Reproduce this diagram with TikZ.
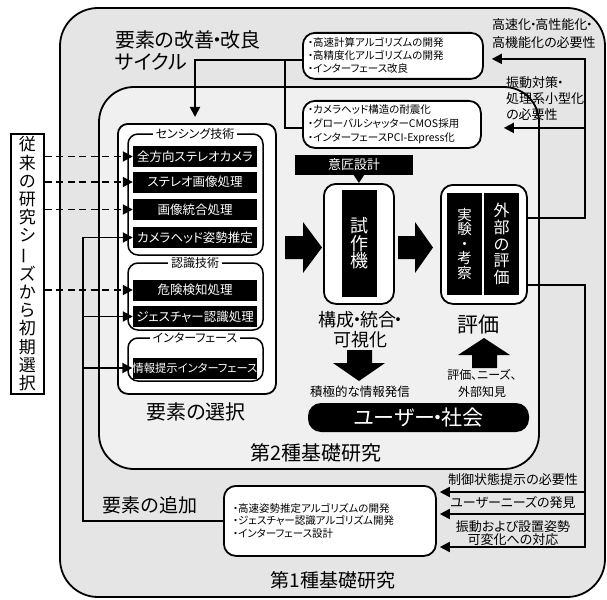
\documentclass[tikz,border=0pt]{standalone}
\usepackage{fontspec}
\usepackage{graphicx}
\setmainfont[CharacterWidth=AlternateProportional]{Noto Sans CJK JP}
\usetikzlibrary{arrows.meta}
\newcommand\nkg{\hbox to .32em{\hss ・\hss}}
\begin{document}
\begin{tikzpicture}[x=1pt,y=-1pt,
  lw/.style={line width=1.8pt},
  arr/.style={line width=1.8pt,-{Triangle[length=10pt,width=10pt]}},
  darr/.style={line width=1.8pt,dash pattern=on 7pt off 4.5pt,-{Triangle[length=10pt,width=10pt]}},
  wbox/.style={draw,line width=1.8pt,fill=white,rounded corners=10pt,anchor=north west,inner sep=0pt},
  grp/.style={draw,line width=1.5pt,rounded corners=10pt},
  blk/.style={fill=black,text=white,inner sep=0pt,minimum width=124pt,minimum height=21pt,font=\fontsize{12.5}{14}\selectfont},
  gtitle/.style={fill=white,inner xsep=3pt,inner ysep=0pt,font=\fontsize{12}{14}\selectfont},
  lbl/.style={inner sep=0pt,align=center},
  bigarrow/.style={fill=black},
]
\useasboundingbox (0,0) rectangle (607,599);
% frames
\draw[lw,fill=black!10,rounded corners=38pt] (60,8) rectangle (605,597);
\draw[lw,fill=black!6,rounded corners=35pt] (99,87) rectangle (539,469);

% selection box
\node[wbox,minimum width=158pt,minimum height=270pt] (sel) at (117,123) {};
\draw[grp] (128,134) rectangle (263,255);
\draw[grp] (128,263) rectangle (263,330);
\draw[grp] (128,338) rectangle (263,381);
\node[gtitle] (t1) at (195,134) {センシング技術};
\node[gtitle] (t2) at (195,263) {認識技術};
\node[gtitle] (t3) at (195,338) {インターフェース};

\node[blk] (b1) at (195,156.5) {全方向ステレオカメラ};
\node[blk] (b2) at (195,182) {ステレオ画像処理};
\node[blk] (b3) at (195,209.5) {画像統合処理};
\node[blk] (b4) at (195,237.5) {カメラヘッド姿勢推定};
\node[blk] (b5) at (195,290) {危険検知処理};
\node[blk] (b6) at (195,316.5) {ジェスチャー認識処理};
\node[blk,font=\fontsize{11.3}{14}\selectfont] (b7) at (195,368) {情報提示インターフェース};

% seeds box
\node[draw,line width=1.5pt,fill=white,inner sep=0pt,minimum width=33pt,minimum height=260pt,anchor=north west,align=center,font=\fontsize{17}{18.2}\selectfont] (seeds) at (10,133) {従\\来\\の\\研\\究\\シ\\\rotatebox[origin=c]{90}{ー}\\ズ\\か\\ら\\初\\期\\選\\択};
\draw[darr] (seeds.east |- b1.west) -- (b1.west);
\draw[darr] (seeds.east |- b2.west) -- (b2.west);
\draw[darr] (seeds.east |- b3.west) -- (b3.west);
\draw[darr] (seeds.east |- b5.west) -- (b5.west);

% coordinates for vertical lines
\coordinate (vl) at (83,0);
\coordinate (vt) at (195,0);
\coordinate (vr) at (585,0);
\coordinate (j1) at (285,59);

% top boxes
\node[wbox,minimum width=180pt,minimum height=46pt,rounded corners=12pt,align=left,text width=170pt,inner xsep=5pt,font=\fontsize{10.5}{13}\selectfont] (box1) at (302,32) {・高速計算アルゴリズムの開発\\・高精度化アルゴリズムの開発\\・インターフェース改良};
\node[wbox,minimum width=178pt,minimum height=47pt,rounded corners=12pt,align=left,text width=168pt,inner xsep=5pt,font=\fontsize{10.5}{14}\selectfont] (box2) at (302,100) {・カメラヘッド構造の耐震化\\・グローバルシャッターCMOS採用\\・インターフェースPCI-Express化};

% bottom box
\node[wbox,minimum width=212pt,minimum height=70pt,rounded corners=12pt,align=left,text width=194pt,inner xsep=9pt,font=\fontsize{10.5}{12.5}\selectfont] (bot) at (223,485) {・高速姿勢推定アルゴリズムの開発\\・ジェスチャー認識アルゴリズム開発\\・インターフェース設計};

% prototype
\node[fill=black,text=white,minimum width=118pt,minimum height=20pt,inner sep=0pt,font=\fontsize{13}{15}\selectfont] (isho) at (354,165) {意匠設計};
\node[wbox,minimum width=70pt,minimum height=120pt,rounded corners=12pt] (shisaku) at (323,183) {};
\node[fill=black,text=white,minimum width=35pt,minimum height=107pt,inner sep=0pt,align=center,font=\fontsize{18}{17.5}\selectfont] (shisakut) at (359.5,243.5) {試\\作\\機};
\draw[line width=1.8pt,-{Triangle[length=8pt,width=10pt]}] (isho.south -| shisaku.north) -- (shisaku.north);

% evaluation
\node[wbox,minimum width=86pt,minimum height=119pt,rounded corners=12pt] (eval) at (440,184) {};
\node[fill=black,text=white,minimum width=35pt,minimum height=102pt,inner sep=0pt,align=center,font=\fontsize{14.5}{14.5}\selectfont] (jikken) at (464.5,244) {実\\験\\・\\考\\察};
\node[fill=black,text=white,minimum width=35pt,minimum height=102pt,inner sep=0pt,align=center,font=\fontsize{16}{16.7}\selectfont] (gaibu) at (501.5,244) {外\\部\\の\\評\\価};

% big arrows
\fill[bigarrow] (285,236) -- (303,236) -- (303,222) -- (322,247.5) -- (303,273) -- (303,259) -- (285,259) -- cycle;
\fill[bigarrow] (398,236) -- (415,236) -- (415,222) -- (433,247.5) -- (415,273) -- (415,259) -- (398,259) -- cycle;
\fill[bigarrow] (347,350) -- (372,350) -- (372,363) -- (385,363) -- (359,381) -- (333,363) -- (347,363) -- cycle;
\fill[bigarrow] (472,368) -- (497,368) -- (497,355) -- (510,355) -- (484,338) -- (458,355) -- (472,355) -- cycle;

% labels
\node[lbl,anchor=west,align=left,font=\fontsize{20}{22}\selectfont] (cyc) at (115,51) {要素の改善\nkg 改良\\サイクル};
\node[lbl,font=\fontsize{18}{20}\selectfont] (kosei) at (360,330) {構成\nkg 統合\nkg\\可視化};
\node[lbl,font=\fontsize{21}{24}\selectfont] (hyoka) at (478,325) {評価};
\node[lbl,font=\fontsize{12.5}{15}\selectfont] (hasshin) at (360,392) {積極的な情報発信};
\node[lbl,font=\fontsize{12}{17}\selectfont] (needs) at (482,383.5) {評価、ニーズ、\\外部知見};
\node[fill=black,text=white,rounded corners=13pt,minimum width=221pt,minimum height=29pt,inner sep=0pt,font=\fontsize{21}{24}\selectfont] (user) at (418.5,417.5) {ユーザー\nkg 社会};
\node[lbl,font=\fontsize{20}{22}\selectfont] (senta) at (196,412) {要素の選択};
\node[lbl,font=\fontsize{20}{22}\selectfont] (dai2) at (316,453) {第2種基礎研究};
\node[lbl,font=\fontsize{19}{22}\selectfont] (dai1) at (333,580) {第1種基礎研究};
\node[lbl,font=\fontsize{19}{22}\selectfont] (tsuika) at (150,505) {要素の追加};

\node[lbl,anchor=west,align=left,font=\fontsize{13}{18}\selectfont] (n1) at (492,34) {高速化\nkg 高性能化\nkg\\高機能化の必要性};
\node[lbl,anchor=west,align=left,font=\fontsize{13}{16}\selectfont] (n2) at (506,99) {振動対策\nkg\\処理系小型化\\の必要性};
\node[lbl,font=\fontsize{13}{15}\selectfont] (n3) at (513,480) {制御状態提示の必要性};
\node[lbl,font=\fontsize{13}{15}\selectfont] (n4) at (513,503) {ユーザーニーズの発見};
\node[lbl,font=\fontsize{13}{13}\selectfont] (n5) at (513,533.5) {振動および設置姿勢\\可変化への対応};

% left connectors
\draw[arr,shorten >=6pt] ([yshift=-4pt]box1.west) -| (sel.north -| vt);
\draw[lw] ([yshift=-3.5pt]box2.west) -| (j1);
\draw[arr] (bot.west) -| (b4.west -| vl) -- (b4.west);
\draw[arr] (b6.west -| vl) -- (b6.west);
\draw[arr] (b7.west -| vl) -- (b7.west);

% right connectors
\coordinate (a1) at ([yshift=-3pt]box1.east);
\coordinate (a2) at ([yshift=-3.5pt]box2.east);
\coordinate (bA) at (bot.east |- 0,492);
\coordinate (bB) at (bot.east |- 0,514);
\coordinate (bC) at (bot.east |- 0,547);
\draw[arr,shorten >=8pt] ([yshift=26.5pt]eval.east) -| (vr |- a1) -- (a1);
\draw[arr,shorten >=22pt] (vr |- a2) -- (a2);
\draw[arr,shorten >=3pt] ([yshift=-40.5pt]eval.east) -| (vr |- bC) -- (bC);
\draw[arr,shorten >=3pt] (vr |- bA) -- (bA);
\draw[arr,shorten >=3pt] (vr |- bB) -- (bB);
\end{tikzpicture}
\end{document}
